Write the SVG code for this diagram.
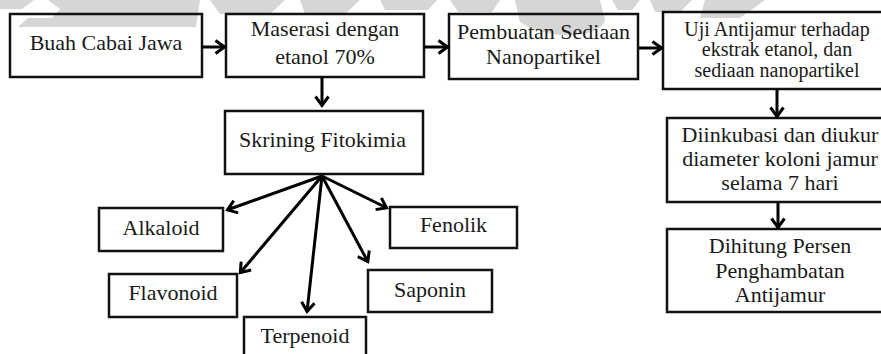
<svg xmlns="http://www.w3.org/2000/svg" width="881" height="354" viewBox="0 0 881 354">
<style>
.wm{fill:#d6d6d6;stroke:none}
.box{fill:none;stroke:#111;stroke-width:2.5}
.t{font-family:"Liberation Serif","Times New Roman",serif;font-size:22px;fill:#1a1a1a;text-anchor:middle}
.s{font-size:20px}
.c{fill:none;stroke:#000;stroke-width:3}
</style>
<defs>
<marker id="ah" markerUnits="userSpaceOnUse" markerWidth="14" markerHeight="16" viewBox="0 0 14 16" refX="11.5" refY="8" orient="auto">
<path d="M2,1.5 L11,8 L2,14.5" fill="none" stroke="#000" stroke-width="3"/>
</marker>
</defs>
<g id="watermark">
<path class="wm" d="M0,0 H34 L22,9 H0 Z"/>
<path class="wm" d="M48,0 H200 L196,27 H18 L28,18 H52 L60,9 Z"/>
<path class="wm" d="M210,0 H285 L270,14 H220 Z"/>
<path class="wm" d="M300,0 H360 L345,14 H305 Z"/>
<path class="wm" d="M380,0 H437 L428,10 H385 Z"/>
<path class="wm" d="M450,0 H500 L492,12 H458 Z"/>
<path class="wm" d="M515,0 H600 L605,20 C600,40 545,40 520,22 Z"/>
<path class="wm" d="M612,0 H640 L632,10 H618 Z"/>
<path class="wm" d="M650,0 H692 L680,12 H655 Z"/>
<path class="wm" d="M705,0 H765 L740,18 H700 Z"/>
</g>
<g id="n1"><rect class="box" x="10" y="14" width="192" height="63"/><text class="t" x="106" y="50">Buah Cabai Jawa</text></g>
<g id="n2"><rect class="box" x="226" y="14" width="198" height="63"/><text class="t" x="325" y="36">Maserasi dengan</text><text class="t" x="325" y="64">etanol 70%</text></g>
<g id="n3"><rect class="box" x="449" y="14" width="189" height="65"/><text class="t" x="543.5" y="39">Pembuatan Sediaan</text><text class="t" x="543.5" y="64">Nanopartikel</text></g>
<g id="n4"><rect class="box" x="663" y="12" width="230" height="77"/><text class="t s" x="777" y="36">Uji Antijamur terhadap</text><text class="t s" x="777" y="56">ekstrak etanol, dan</text><text class="t s" x="777" y="77">sediaan nanopartikel</text></g>
<g id="n5"><rect class="box" x="667" y="118" width="226" height="84"/><text class="t" x="780" y="142">Diinkubasi dan diukur</text><text class="t" x="780" y="166">diameter koloni jamur</text><text class="t" x="780" y="190">selama 7 hari</text></g>
<g id="n6"><rect class="box" x="667" y="229" width="226" height="83"/><text class="t" x="780" y="253">Dihitung Persen</text><text class="t" x="780" y="278">Penghambatan</text><text class="t" x="780" y="302">Antijamur</text></g>
<g id="n7"><rect class="box" x="225" y="111" width="198" height="63"/><text class="t" x="322.5" y="147">Skrining Fitokimia</text></g>
<g id="n8"><rect class="box" x="99" y="208" width="124" height="43"/><text class="t" x="161" y="235">Alkaloid</text></g>
<g id="n9"><rect class="box" x="109" y="274" width="128" height="43"/><text class="t" x="173" y="300">Flavonoid</text></g>
<g id="n10"><rect class="box" x="244" y="317" width="122" height="50"/><text class="t" x="305" y="343">Terpenoid</text></g>
<g id="n11"><rect class="box" x="368" y="270" width="124" height="42"/><text class="t" x="430" y="297">Saponin</text></g>
<g id="n12"><rect class="box" x="390" y="207" width="127" height="41"/><text class="t" x="453.5" y="232">Fenolik</text></g>
<g id="connectors">
<line class="c" x1="202" y1="47" x2="225" y2="47" marker-end="url(#ah)"/>
<line class="c" x1="424" y1="47" x2="448" y2="47" marker-end="url(#ah)"/>
<line class="c" x1="638" y1="48" x2="662" y2="48" marker-end="url(#ah)"/>
<line class="c" x1="322" y1="77" x2="322" y2="106" marker-end="url(#ah)"/>
<line class="c" x1="777" y1="89" x2="777" y2="117" marker-end="url(#ah)"/>
<line class="c" x1="778" y1="202" x2="778" y2="228" marker-end="url(#ah)"/>
<line class="c" x1="322" y1="176" x2="227" y2="210" marker-end="url(#ah)"/>
<line class="c" x1="322" y1="176" x2="240" y2="273" marker-end="url(#ah)"/>
<line class="c" x1="322" y1="176" x2="307" y2="312" marker-end="url(#ah)"/>
<line class="c" x1="322" y1="176" x2="368" y2="262" marker-end="url(#ah)"/>
<line class="c" x1="322" y1="176" x2="387" y2="208" marker-end="url(#ah)"/>
</g>
</svg>
